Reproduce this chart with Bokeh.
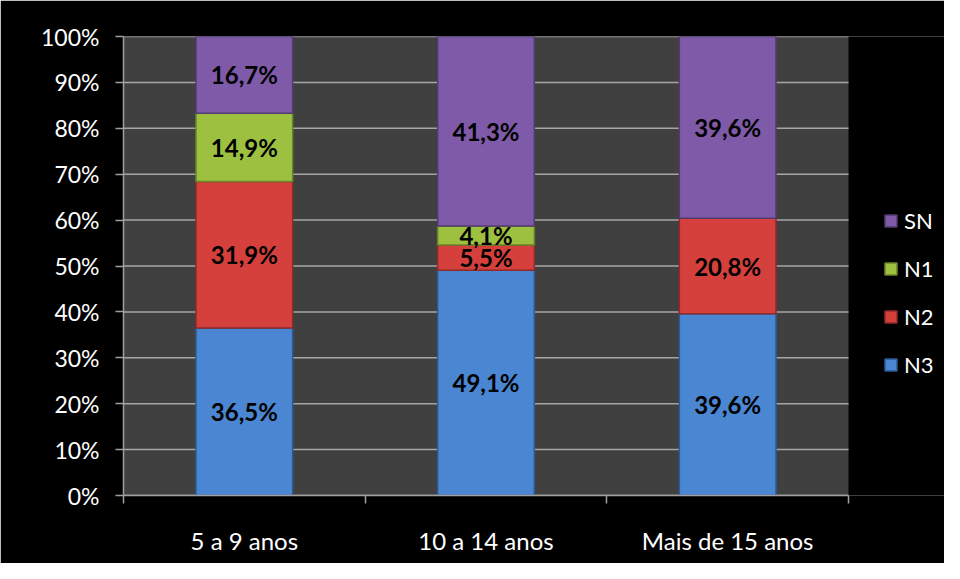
from bokeh.plotting import figure
from bokeh.models import ColumnDataSource, FixedTicker, Legend, LegendItem
from bokeh.core.properties import value
from bokeh.embed import file_html
from bokeh.resources import INLINE

categories = ["5 a 9 anos", "10 a 14 anos", "Mais de 15 anos"]
series = ["N3", "N2", "N1", "SN"]
N3 = [36.5, 49.1, 39.6]
N2 = [31.9, 5.5, 20.8]
N1 = [14.9, 4.1, 0.0]
SN = [16.7, 41.3, 39.6]
y_ticks = [0, 10, 20, 30, 40, 50, 60, 70, 80, 90, 100]
y_tick_labels = ["%d%%" % t for t in y_ticks]

colors = {"N3": "#4a86d2", "N2": "#d6403c", "N1": "#9dc040", "SN": "#7f5aa8"}
edges = {"N3": "#2d5a90", "N2": "#8e2a28", "N1": "#6a8428", "SN": "#523a70"}
values = {"N3": N3, "N2": N2, "N1": N1, "SN": SN}

FONT = "Lato"

ncat = len(categories)
xs = [i + 0.5 for i in range(ncat)]

# frame spans to the right edge; the data area (0..ncat) takes 725 of 821 px
W, H = 944, 563
LEFT, TOP, BOTTOM = 123, 36, 68
frame_w = W - LEFT
x_end = ncat * frame_w / 725.0

p = figure(width=W, height=H, x_range=(0, x_end), y_range=(0, 100),
           output_backend="svg", toolbar_location=None,
           background_fill_color="black", border_fill_color="black",
           min_border_left=LEFT, min_border_right=0, min_border_top=TOP, min_border_bottom=BOTTOM)
p.outline_line_color = None

# plot area background
p.quad(left=[0], right=[ncat], bottom=[y_ticks[0]], top=[y_ticks[-1]],
       fill_color="#404040", line_color=None)
# horizontal grid lines
p.segment(x0=[0] * len(y_ticks), x1=[ncat] * len(y_ticks), y0=y_ticks, y1=y_ticks,
          line_color="#a6a6a6", line_width=1.5)

renderers = {}
bottoms = [0.0] * ncat
lx, ly, lt = [], [], []
for s in series:
    vals = values[s]
    tops = [b + v for b, v in zip(bottoms, vals)]
    src = ColumnDataSource(dict(x=xs, bottom=bottoms, top=tops))
    r = p.vbar(x="x", bottom="bottom", top="top", width=0.4, source=src,
               fill_color=colors[s], line_color=edges[s], line_width=1.5)
    renderers[s] = r
    for x, b, v in zip(xs, bottoms, vals):
        if v > 0:
            lx.append(x)
            ly.append(b + v / 2)
            lt.append(("%.1f%%" % v).replace(".", ","))
    bottoms = tops

lsrc = ColumnDataSource(dict(x=lx, y=ly, t=lt))
p.text(x="x", y="y", text="t", source=lsrc, text_align="center", text_baseline="middle",
       text_font=value(FONT), text_font_style="bold", text_font_size="24px", text_color="black")

# axes
p.yaxis.ticker = FixedTicker(ticks=y_ticks)
p.yaxis.major_label_overrides = {t: l for t, l in zip(y_ticks, y_tick_labels)}
p.yaxis.minor_tick_line_color = None
p.yaxis.major_tick_out = 8
p.yaxis.major_tick_in = 0
p.yaxis.major_tick_line_color = "#a0a0a0"
p.yaxis.major_tick_line_width = 1.5
p.yaxis.axis_line_color = "#a0a0a0"
p.yaxis.axis_line_width = 1.5
p.yaxis.major_label_text_color = "white"
p.yaxis.major_label_text_font = FONT
p.yaxis.major_label_text_font_size = "23px"
p.yaxis.major_label_standoff = 16

p.xaxis.bounds = (0, ncat)
p.xaxis.ticker = FixedTicker(ticks=xs, minor_ticks=list(range(ncat + 1)))
p.xaxis.major_label_overrides = {x: c for x, c in zip(xs, categories)}
p.xaxis.major_tick_line_color = None
p.xaxis.minor_tick_out = 8
p.xaxis.minor_tick_in = 0
p.xaxis.minor_tick_line_color = "#a0a0a0"
p.xaxis.minor_tick_line_width = 1.5
p.xaxis.axis_line_color = "#a0a0a0"
p.xaxis.axis_line_width = 1.5
p.xaxis.major_label_text_color = "white"
p.xaxis.major_label_text_font = FONT
p.xaxis.major_label_text_font_size = "24px"
p.xaxis.major_label_standoff = 22

p.xgrid.grid_line_color = None
p.ygrid.grid_line_color = None

items = [LegendItem(label=s, renderers=[renderers[s]]) for s in reversed(series)]
legend = Legend(items=items, location=(760, 117), background_fill_alpha=0,
                border_line_color=None, glyph_width=15, glyph_height=15,
                label_text_color="white", label_text_font=FONT, label_text_font_size="22px",
                label_standoff=6, spacing=21, padding=4, margin=0)
p.add_layout(legend, "center")

open("out.html", "w").write(file_html(p, INLINE))
